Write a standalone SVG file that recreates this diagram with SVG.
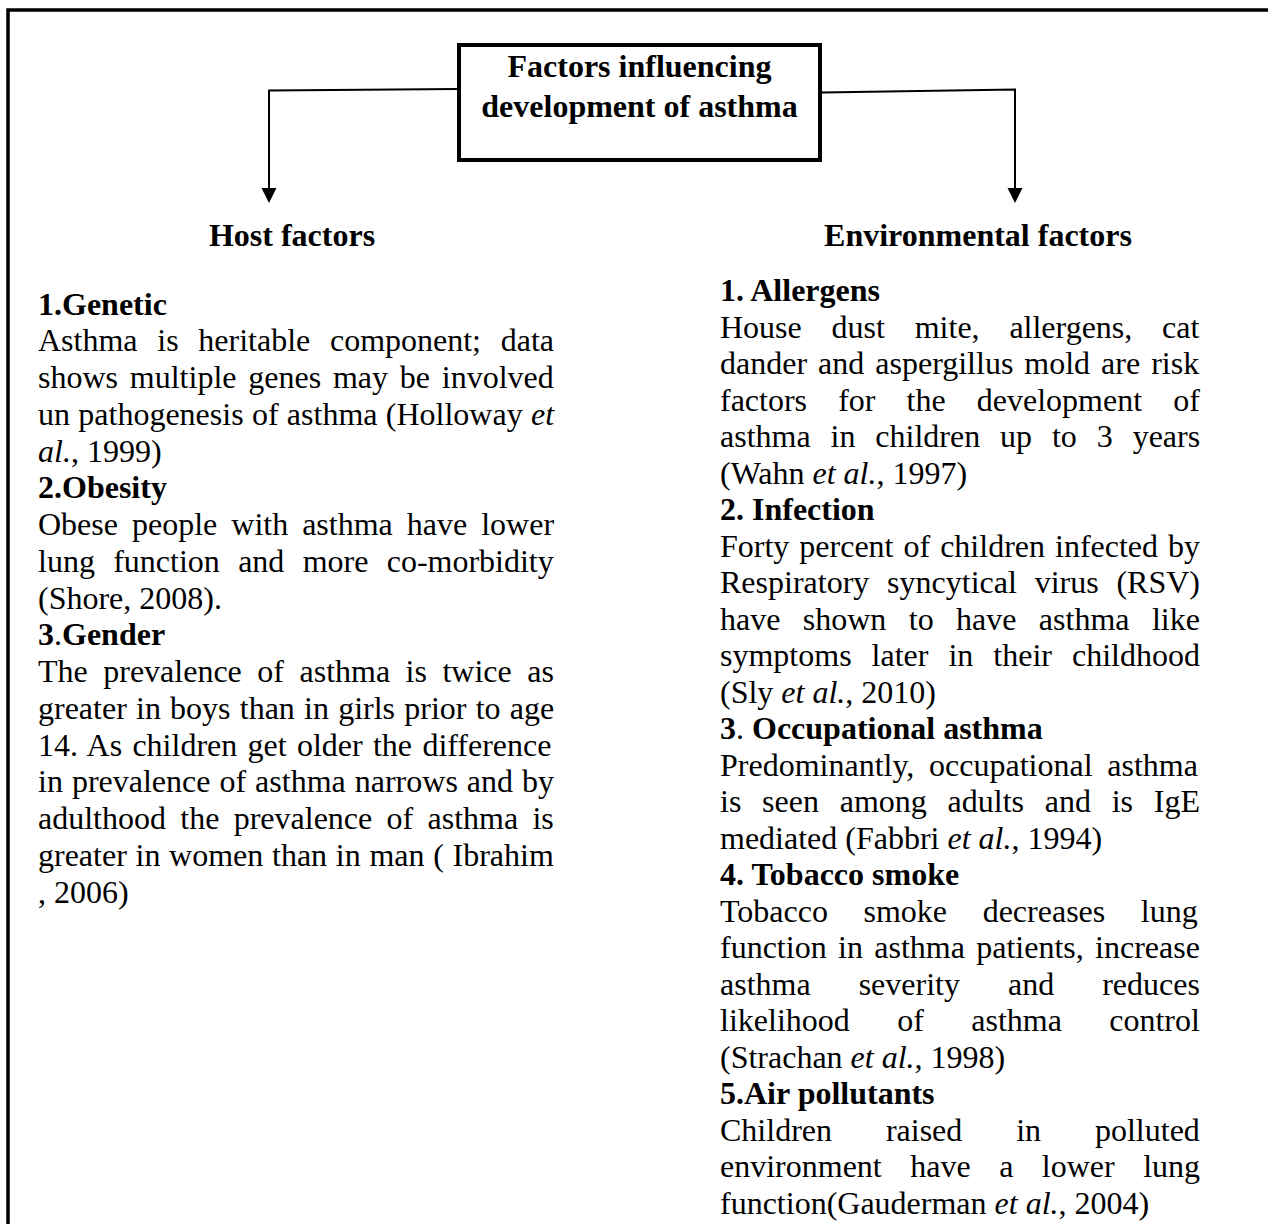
<svg xmlns="http://www.w3.org/2000/svg" width="1268" height="1224" viewBox="0 0 1268 1224">
<style>
text{font-family:"Liberation Serif","Times New Roman",serif;font-size:32px;fill:#000}
.b{font-weight:bold}
.r{font-weight:normal}
.i{font-style:italic}
.c{text-anchor:middle}
.frame{fill:none;stroke:#000;stroke-width:3.5}
.box{fill:#fff;stroke:#000;stroke-width:4}
.conn{fill:none;stroke:#000;stroke-width:2}
</style>
<defs>
<marker id="arrow" markerUnits="userSpaceOnUse" markerWidth="16" markerHeight="16" refX="7" refY="7.5" orient="auto">
<path d="M0,0 L15,7.5 L0,15 z" fill="#000"/>
</marker>
</defs>
<rect width="1268" height="1224" fill="#fff"/>
<g id="frame">
<path class="frame" d="M8,1224 L8,10 L1268,10"/>
</g>
<g id="connectors">
<path class="conn" d="M457,89 L269,90.5 L269,195" marker-end="url(#arrow)"/>
<path class="conn" d="M822,92.5 L1015,89.5 L1015,195" marker-end="url(#arrow)"/>
</g>
<g id="title">
<rect class="box" x="459" y="45" width="361" height="115"/>
<text class="b c" x="639.5" y="77">Factors influencing</text>
<text class="b c" x="639.5" y="117">development of asthma</text>
</g>
<g id="host-factors">
<text class="b c" x="292" y="246">Host factors</text>
</g>
<g id="environmental-factors">
<text class="b c" x="978" y="246">Environmental factors</text>
</g>
<g id="host-content">
<text class="b" x="38" y="314.5">1.Genetic</text>
<text x="38" y="351.25" word-spacing="11.7">Asthma is heritable component; data</text>
<text x="38" y="388" word-spacing="3.8">shows multiple genes may be involved</text>
<text x="38" y="424.75" word-spacing="0.3">un pathogenesis of asthma (Holloway <tspan class="i">et</tspan></text>
<text x="38" y="461.5"><tspan class="i">al.</tspan>, 1999)</text>
<text class="b" x="38" y="498.25">2.Obesity</text>
<text x="38" y="535" word-spacing="6">Obese people with asthma have lower</text>
<text x="38" y="571.75" word-spacing="10.3">lung function and more co-morbidity</text>
<text x="38" y="608.5">(Shore, 2008).</text>
<text class="b" x="38" y="645.25">3<tspan class="r">.</tspan>Gender</text>
<text x="38" y="682" word-spacing="7.5">The prevalence of asthma is twice as</text>
<text x="38" y="718.75" word-spacing="1.2">greater in boys than in girls prior to age</text>
<text x="38" y="755.5" word-spacing="2.3">14. As children get older the difference</text>
<text x="38" y="792.25" word-spacing="1">in prevalence of asthma narrows and by</text>
<text x="38" y="829" word-spacing="6.3">adulthood the prevalence of asthma is</text>
<text x="38" y="865.75" word-spacing="0.7">greater in women than in man ( Ibrahim</text>
<text x="38" y="902.5">, 2006)</text>
</g>
<g id="environmental-content">
<text class="b" x="720" y="301">1. Allergens</text>
<text x="720" y="337.5" word-spacing="21.8">House dust mite, allergens, cat</text>
<text x="720" y="374" word-spacing="3">dander and aspergillus mold are risk</text>
<text x="720" y="410.5" word-spacing="23.1">factors for the development of</text>
<text x="720" y="447" word-spacing="11.9">asthma in children up to 3 years</text>
<text x="720" y="483.5">(Wahn <tspan class="i">et al.</tspan>, 1997)</text>
<text class="b" x="720" y="520">2. Infection</text>
<text x="720" y="556.5" word-spacing="2">Forty percent of children infected by</text>
<text x="720" y="593" word-spacing="9.8">Respiratory syncytical virus (RSV)</text>
<text x="720" y="629.5" word-spacing="14.4">have shown to have asthma like</text>
<text x="720" y="666" word-spacing="12">symptoms later in their childhood</text>
<text x="720" y="702.5">(Sly <tspan class="i">et al.</tspan>, 2010)</text>
<text class="b" x="720" y="739">3<tspan class="r">. </tspan>Occupational asthma</text>
<text x="720" y="775.5" word-spacing="6.7">Predominantly, occupational asthma</text>
<text x="720" y="812" word-spacing="12.75">is seen among adults and is IgE</text>
<text x="720" y="848.5">mediated (Fabbri <tspan class="i">et al.</tspan>, 1994)</text>
<text class="b" x="720" y="885">4. Tobacco smoke</text>
<text x="720" y="921.5" word-spacing="27.6">Tobacco smoke decreases lung</text>
<text x="720" y="958" word-spacing="3.35">function in asthma patients, increase</text>
<text x="720" y="994.5" word-spacing="40">asthma severity and reduces</text>
<text x="720" y="1031" word-spacing="39.4">likelihood of asthma control</text>
<text x="720" y="1067.5">(Strachan <tspan class="i">et al.</tspan>, 1998)</text>
<text class="b" x="720" y="1104">5.Air pollutants</text>
<text x="720" y="1140.5" word-spacing="45.9">Children raised in polluted</text>
<text x="720" y="1177" word-spacing="20.5">environment have a lower lung</text>
<text x="720" y="1213.5">function(Gauderman <tspan class="i">et al.</tspan>, 2004)</text>
</g>
</svg>
